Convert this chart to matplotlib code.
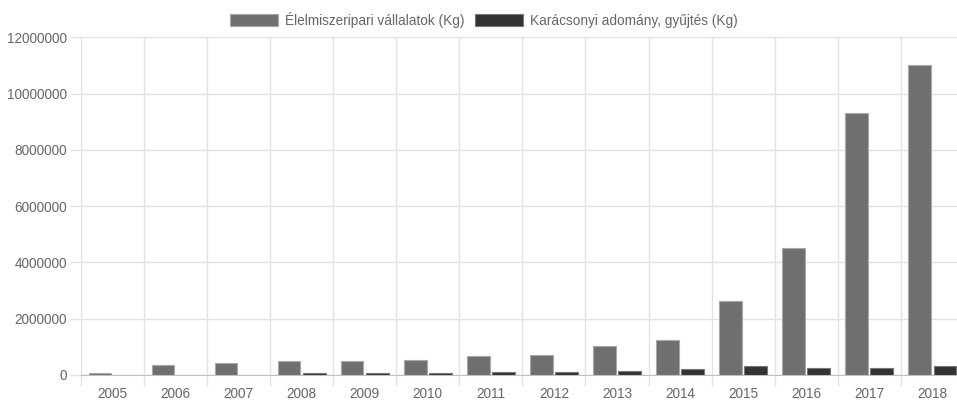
import matplotlib
matplotlib.use("Agg")
import matplotlib.pyplot as plt
import numpy as np
from matplotlib.patches import Patch
from matplotlib.ticker import FixedLocator, FuncFormatter

years = ["2005", "2006", "2007", "2008", "2009", "2010", "2011",
         "2012", "2013", "2014", "2015", "2016", "2017", "2018"]
elelmiszer = [65000, 345000, 427000, 509000, 510000, 545000, 665000,
              712000, 1043000, 1246000, 2623000, 4530000, 9310000, 11010000]
karacsonyi = [0, 0, 0, 60000, 60000, 60000, 95000,
              95000, 142000, 214000, 310000, 260000, 260000, 310000]
series_labels = ["Élelmiszeripari vállalatok (Kg)", "Karácsonyi adomány, gyűjtés (Kg)"]
y_ticks = [0, 2000000, 4000000, 6000000, 8000000, 10000000, 12000000]

plt.rcParams["font.family"] = ["Liberation Sans", "DejaVu Sans"]
text_color = "#666666"
grid_color = "#e3e3e3"
fs = 9.8

fig = plt.figure(figsize=(9.57, 4.03), dpi=100)
W, H = 957, 403
left_px, right_px = 81, 963.8
zero_px, top_px = 375, 37.4
ax = fig.add_axes([left_px / W, (H - zero_px) / H,
                   (right_px - left_px) / W, (zero_px - top_px) / H])

x = np.arange(len(years))
cat = 0.8
bw = cat / 2
barw = bw * 0.9
lw1 = [0.8 if v > 0 else 0 for v in elelmiszer]
lw2 = [0.8 if v > 0 else 0 for v in karacsonyi]
ax.bar(x - bw / 2, elelmiszer, width=barw, color="#6f6f6f",
       edgecolor="#a8a8a8", linewidth=lw1, zorder=3)
ax.bar(x + bw / 2, karacsonyi, width=barw, color="#333333",
       edgecolor="#777777", linewidth=lw2, zorder=3)

ax.set_xlim(-0.5, len(years) - 0.5)
ax.set_ylim(0, 12000000)

ax.set_xticks(x)
ax.set_xticklabels(years, fontsize=fs, color=text_color)
ax.xaxis.set_minor_locator(FixedLocator(np.arange(-0.5, len(years), 1.0)))
ax.tick_params(axis="x", which="major", length=0, pad=9)
ax.tick_params(axis="x", which="minor", length=8, color=grid_color, width=1)

ax.set_yticks(y_ticks)
ax.yaxis.set_major_formatter(FuncFormatter(lambda v, p: f"{int(v)}"))
ax.tick_params(axis="y", which="major", length=8, color=grid_color, width=1,
               labelsize=fs, labelcolor=text_color, pad=2)

ax.grid(True, axis="y", which="major", color=grid_color, linewidth=1, zorder=0)
ax.grid(True, axis="x", which="minor", color=grid_color, linewidth=1, zorder=0)
ax.grid(False, axis="x", which="major")

for s in ["top", "right"]:
    ax.spines[s].set_visible(False)
ax.spines["left"].set_color(grid_color)
ax.spines["bottom"].set_color("#c0c0c0")
ax.spines["left"].set_zorder(0)

handles = [Patch(facecolor="#6f6f6f", edgecolor="#a8a8a8", linewidth=0.8),
           Patch(facecolor="#333333", edgecolor="#777777", linewidth=0.8)]
leg = fig.legend(handles, series_labels, loc="center", ncol=2,
                 bbox_to_anchor=(484 / W, (H - 19.5) / H),
                 frameon=False, fontsize=fs, labelcolor=text_color,
                 handlelength=3.5, handleheight=1.0, handletextpad=0.5,
                 columnspacing=0.8, borderpad=0, borderaxespad=0)

fig.savefig("out.png", dpi=100)
